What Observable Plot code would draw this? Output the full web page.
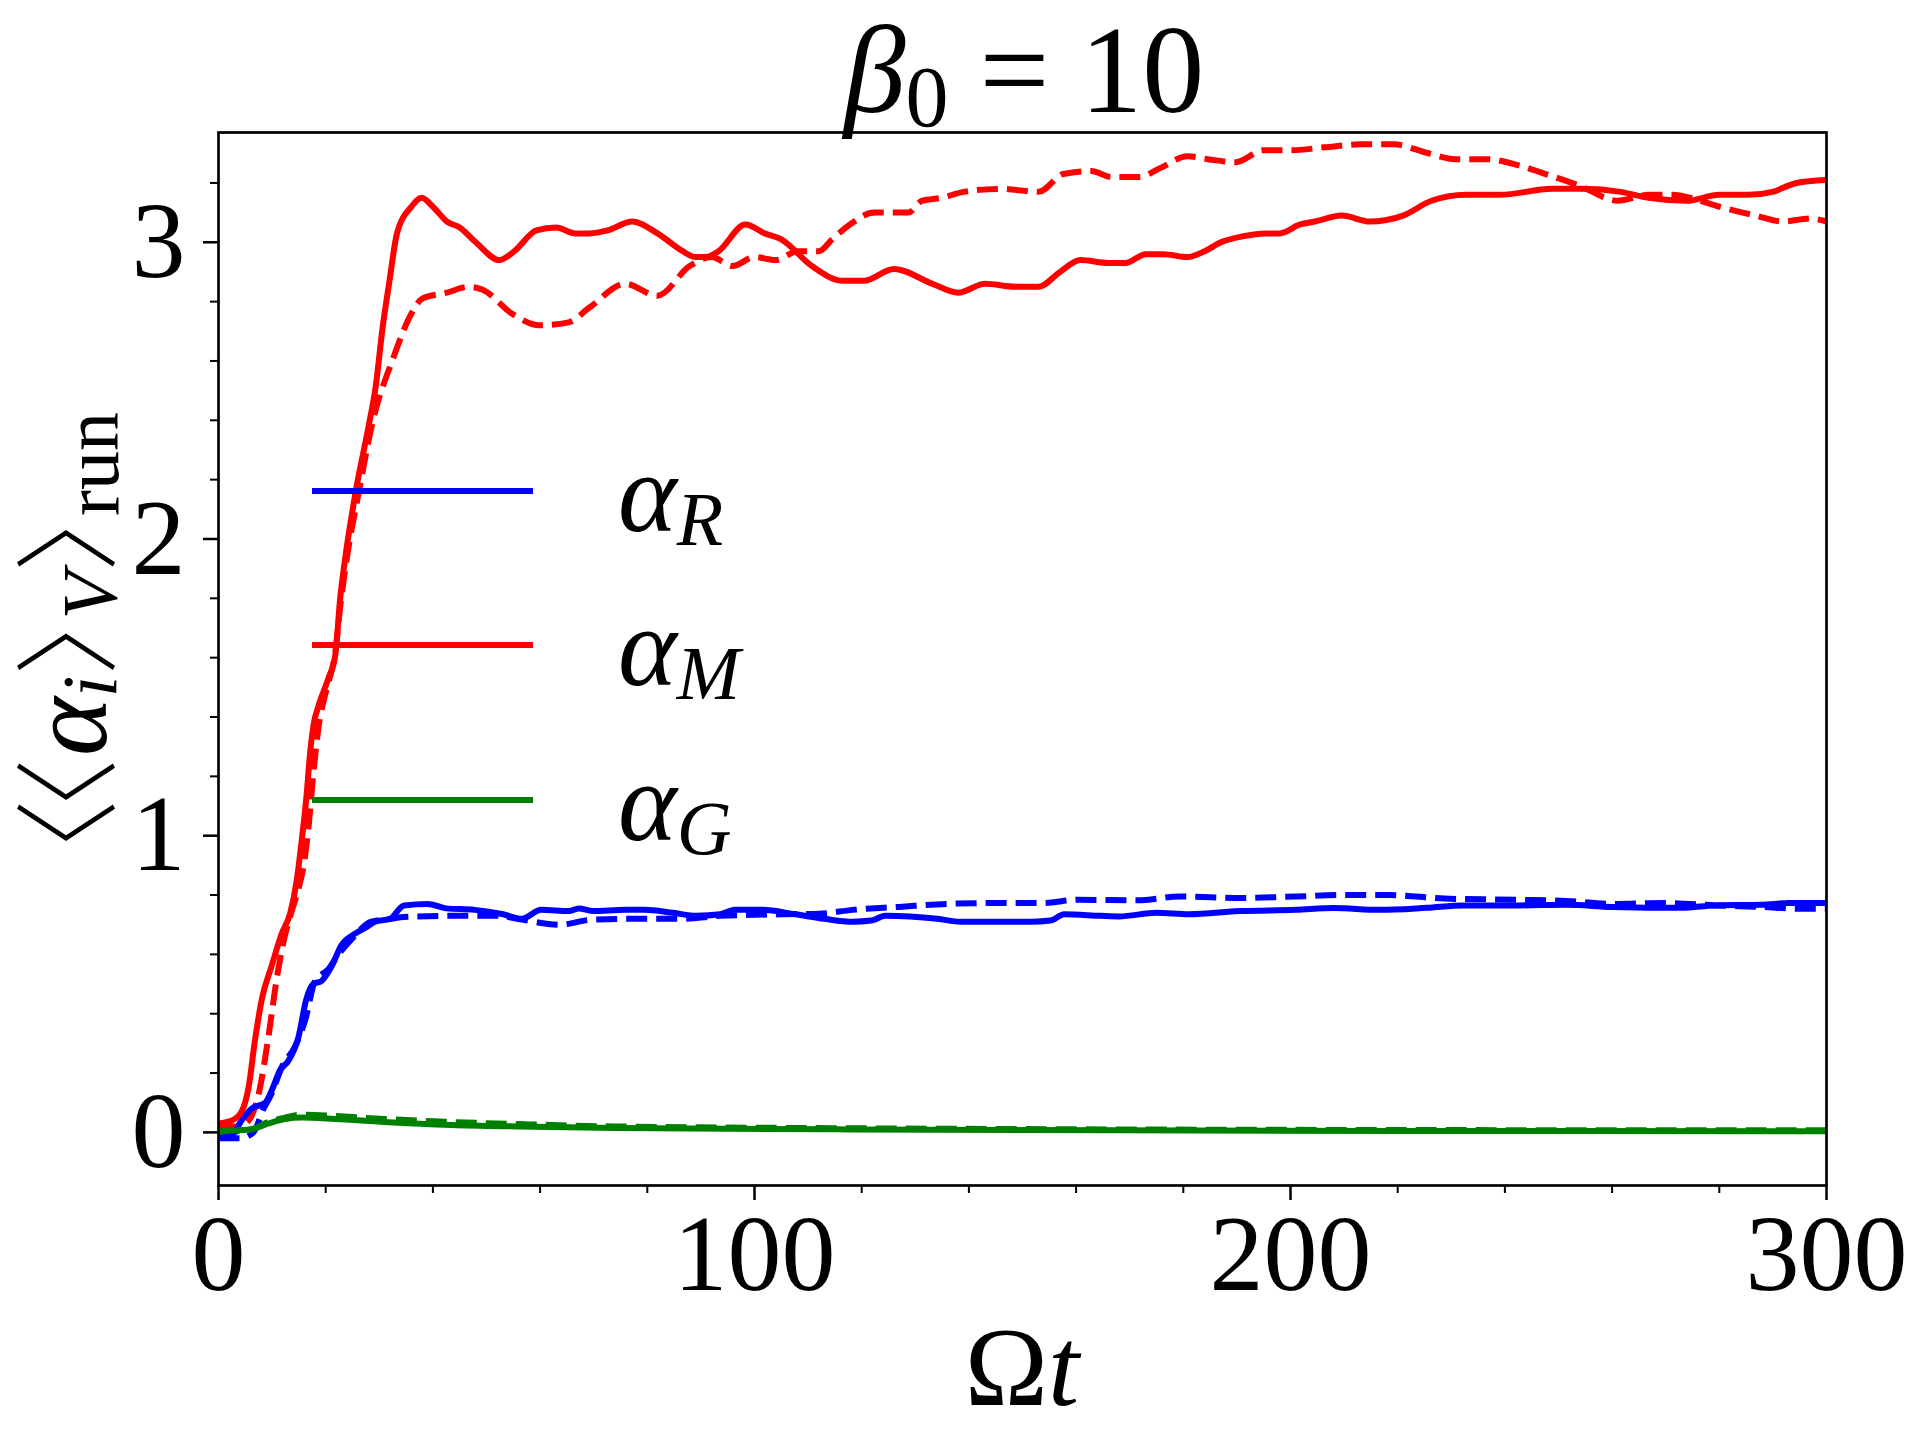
<!DOCTYPE html>
<html><head><meta charset="utf-8">
<script src="https://cdn.jsdelivr.net/npm/d3@7"></script>
<script src="https://cdn.jsdelivr.net/npm/@observablehq/plot@0.6"></script>
<style>
body{margin:0;background:#fff}
#chart svg{display:block}
</style>
</head><body><div id="chart"></div>
<script>
// ---- data: [Ωt, value] ----
const alphaM_solid = [[0,0.03],[2.5,0.04],[4.3,0.07],[5.6,0.15],[6.8,0.31],[8.1,0.45],[9.9,0.56],[11.8,0.67],[13.4,0.74],[14.6,0.85],[15.5,0.98],[16.4,1.13],[17.1,1.28],[17.7,1.37],[18.7,1.44],[20.5,1.53],[21.8,1.61],[22.7,1.80],[23.6,1.93],[25.6,2.16],[28,2.38],[29.3,2.51],[30.6,2.71],[31.9,2.87],[33.3,3.03],[36,3.12],[37.9,3.15],[40,3.12],[42.6,3.07],[45,3.05],[48,3.0],[52.4,2.94],[55.2,2.97],[59.3,3.04],[63,3.05],[66.6,3.03],[69.2,3.03],[72.6,3.04],[77.2,3.07],[81.9,3.03],[86.6,2.97],[89,2.95],[91,2.95],[93.3,2.97],[98.3,3.06],[101.9,3.03],[105,3.01],[110.7,2.92],[116.5,2.87],[120.4,2.87],[126,2.91],[133.2,2.86],[138,2.83],[143,2.86],[148.7,2.85],[153,2.85],[157,2.90],[160.8,2.94],[166,2.93],[169.2,2.93],[173,2.96],[176.3,2.96],[180.8,2.95],[184,2.97],[187,3.00],[191,3.02],[195.5,3.03],[198,3.03],[201.8,3.06],[204.5,3.07],[209.6,3.09],[214.8,3.07],[221,3.09],[226.3,3.14],[232.7,3.16],[239,3.16],[248.8,3.18],[254.6,3.18],[261.6,3.17],[266.8,3.15],[273.9,3.14],[280,3.16],[285.4,3.16],[289.9,3.17],[294.4,3.20],[300,3.21]];
const alphaM_dashed = [[0,0.02],[3,0.02],[5,0.03],[7.5,0.13],[9.3,0.32],[10.8,0.51],[12.1,0.64],[13.4,0.73],[14.9,0.82],[15.9,0.90],[16.8,1.03],[17.7,1.21],[18.7,1.37],[20.1,1.49],[21.8,1.62],[22.7,1.77],[23.9,1.93],[26.3,2.17],[28.7,2.39],[32.6,2.61],[36,2.76],[38,2.81],[42.6,2.83],[46.6,2.85],[49.3,2.84],[54.7,2.76],[59.9,2.72],[65.3,2.73],[69.2,2.78],[75.9,2.86],[81.9,2.82],[87.9,2.92],[92,2.95],[95.9,2.92],[100,2.95],[104,2.94],[108,2.97],[112,2.97],[114.5,3.01],[117.8,3.06],[122.3,3.10],[128.7,3.10],[131.3,3.14],[135,3.15],[139,3.17],[146,3.18],[153,3.17],[157.6,3.23],[162.8,3.24],[166.6,3.22],[171.8,3.22],[175.7,3.25],[180.8,3.29],[184.6,3.28],[189.8,3.27],[194.9,3.31],[200,3.31],[206.3,3.32],[212.9,3.33],[219.2,3.33],[225.7,3.30],[230.8,3.28],[236.6,3.28],[242.4,3.26],[247.6,3.23],[254,3.19],[261,3.14],[266.8,3.16],[271.3,3.16],[274.5,3.15],[280,3.12],[286.8,3.09],[291.8,3.07],[297,3.08],[300,3.07]];
const alphaR_solid = [[0,-0.02],[2.5,-0.01],[4.3,0.04],[6.2,0.08],[8.7,0.10],[9.9,0.14],[11.5,0.21],[13,0.24],[14.9,0.32],[16.4,0.45],[17.7,0.50],[19.2,0.51],[21.1,0.56],[22.9,0.63],[25.5,0.67],[27.4,0.69],[29.2,0.71],[32,0.72],[34.6,0.765],[39,0.77],[42.5,0.755],[47.8,0.75],[53.1,0.735],[56.6,0.72],[60.2,0.75],[65.4,0.746],[67.2,0.755],[69.8,0.746],[75.9,0.75],[79.5,0.75],[84.8,0.74],[89.2,0.73],[93.6,0.735],[96.3,0.75],[101.5,0.75],[107.6,0.735],[113,0.72],[118.3,0.71],[121.8,0.714],[124.4,0.73],[134.1,0.72],[138.5,0.71],[144.7,0.71],[151.7,0.71],[155.2,0.714],[157.8,0.735],[164.6,0.73],[168,0.728],[175,0.74],[181,0.735],[190.6,0.746],[201,0.75],[208,0.756],[216.6,0.75],[225.4,0.757],[232.3,0.765],[242.7,0.765],[251.4,0.767],[260,0.76],[273,0.757],[279.2,0.765],[287.9,0.767],[293,0.773],[300,0.773]];
const alphaR_dashed = [[0,-0.02],[4,-0.02],[6.5,0.0],[8.4,0.08],[9.9,0.13],[11.8,0.22],[14.3,0.29],[16.2,0.38],[18,0.51],[20.5,0.55],[22.4,0.60],[24.8,0.65],[28.5,0.71],[32.3,0.72],[34.6,0.726],[43.4,0.73],[52.2,0.73],[56.6,0.717],[63.6,0.70],[69.8,0.717],[78.7,0.72],[86.6,0.72],[93.6,0.73],[105,0.735],[112,0.737],[118.3,0.75],[127,0.76],[135.8,0.77],[144.7,0.773],[153.5,0.773],[160.5,0.784],[171.5,0.782],[179.3,0.795],[190.6,0.79],[201,0.795],[209.7,0.80],[218.4,0.80],[228.8,0.788],[242.7,0.784],[251.4,0.78],[260,0.77],[270.5,0.773],[279.2,0.765],[287.9,0.76],[294.8,0.754],[300,0.754]];
const alphaG_solid = [[0,0.005],[6,0.01],[9.3,0.03],[12.4,0.045],[15.5,0.05],[21.8,0.045],[31,0.035],[43.5,0.025],[56,0.02],[74,0.015],[118,0.01],[168,0.007],[220,0.005],[300,0.004]];
const alphaG_dashed = [[0,0.0],[6,0.01],[9.3,0.035],[12.4,0.05],[15.5,0.06],[21.8,0.055],[31,0.045],[43.5,0.035],[56,0.028],[74,0.02],[118,0.014],[168,0.01],[220,0.008],[300,0.007]];

const xTicks = [0, 100, 200, 300];
const xMinorTicks = [20,40,60,80,120,140,160,180,220,240,260,280];
const yTicks = [0, 1, 2, 3];
const yMinorTicks = [0.2,0.4,0.6,0.8,1.2,1.4,1.6,1.8,2.2,2.4,2.6,2.8,3.2];

const colR = "#0000ff", colM = "#ff0000", colG = "#008000";
const legendItems = [
  {name:"α", sub:"R", color:colR},
  {name:"α", sub:"M", color:colM},
  {name:"α", sub:"G", color:colG}
];

(function(){
const FONT = "'Liberation Serif', 'Times New Roman', serif";
const LW = 6, DASH = "21,9";

function ln(data, color, dashed){
  return Plot.line(data, {x: d=>d[0], y: d=>d[1], stroke: color, strokeWidth: LW,
    strokeDasharray: dashed ? DASH : null, curve: "monotone-x", clip: true, strokeLinecap: "butt"});
}

const plot = Plot.plot({
  width: 1920, height: 1440,
  marginLeft: 218, marginRight: 94, marginTop: 132, marginBottom: 255,
  x: {domain: [0, 300]},
  y: {domain: [-0.179, 3.37]},
  style: {fontFamily: FONT, fontSize: "108px", background: "white", color: "black"},
  marks: [
    ln(alphaR_dashed, colR, true),
    ln(alphaM_dashed, colM, true),
    ln(alphaG_dashed, colG, true),
    ln(alphaR_solid, colR, false),
    ln(alphaM_solid, colM, false),
    ln(alphaG_solid, colG, false),
    Plot.axisX(xMinorTicks, {tickSize: 8, strokeWidth: 2, tickFormat: () => "", label: null}),
    Plot.axisX(xTicks, {tickSize: 15, strokeWidth: 2.5, tickPadding: 13, fontSize: 108, tickFormat: d => String(d), label: null}),
    Plot.axisY(yMinorTicks, {tickSize: 8, strokeWidth: 2, tickFormat: () => "", label: null}),
    Plot.axisY(yTicks, {tickSize: 15, strokeWidth: 2.5, tickPadding: 18, fontSize: 108, tickFormat: d => String(d), label: null}),
    Plot.frame({stroke: "black", strokeWidth: 2.7})
  ]
});
document.getElementById("chart").appendChild(plot);

const svg = d3.select(plot);
const sx = plot.scale("x"), sy = plot.scale("y");
const pLeft = sx.range[0], pRight = sx.range[1];
const pTop = Math.min(...sy.range), pBottom = Math.max(...sy.range);
const cx = (pLeft + pRight) / 2, cy = (pTop + pBottom) / 2;

// Title
const title = svg.append("text").attr("x", cx + 2).attr("y", 112)
  .attr("text-anchor", "middle").attr("font-family", FONT).attr("font-size", 124).attr("fill", "black");
title.append("tspan").attr("font-style", "italic").attr("font-size", 124).text("β");
title.append("tspan").attr("font-size", 86).attr("dy", 14).text("0");
title.append("tspan").attr("dy", -14).text(" = 10");

// X label
const xl = svg.append("text").attr("x", cx).attr("y", 1405)
  .attr("text-anchor", "middle").attr("font-family", FONT).attr("font-size", 112).attr("fill", "black");
xl.append("tspan").text("Ω");
xl.append("tspan").attr("font-style", "italic").text("t");

// Y label (rotated)
const BR = "'Noto Sans CJK JP', 'Noto Sans CJK SC', sans-serif";
const BS = 106;
const yl = svg.append("text").attr("transform", `translate(106,${cy}) rotate(-90)`)
  .attr("text-anchor", "middle").attr("font-family", FONT).attr("font-size", 112).attr("fill", "black");
function br(ch, dx, dy){
  return yl.append("tspan").attr("font-family", BR).attr("font-weight", 300).attr("font-size", BS)
    .attr("dx", dx).attr("dy", dy).text(ch);
}
br("〈", 0, 0);
br("〈", -12, 0);
yl.append("tspan").attr("font-style", "italic").attr("dx", 2).text("α");
yl.append("tspan").attr("font-style", "italic").attr("font-size", 78).attr("dy", 10).text("i");
br("〉", 0, -10);
yl.append("tspan").attr("font-style", "italic").attr("font-size", 78).attr("dx", -50).attr("dy", 10).text("V");
br("〉", 0, -10);
yl.append("tspan").attr("font-size", 78).attr("dx", -50).attr("dy", 12).text("run");

// Legend
const legY = [491, 645, 800];
legendItems.forEach((it, i) => {
  svg.append("line").attr("x1", 312).attr("x2", 533).attr("y1", legY[i]).attr("y2", legY[i])
    .attr("stroke", it.color).attr("stroke-width", LW);
  const t = svg.append("text").attr("x", 618).attr("y", legY[i] + 40).attr("text-anchor", "start")
    .attr("font-family", FONT).attr("font-size", 112).attr("fill", "black");
  t.append("tspan").attr("font-style", "italic").text(it.name);
  t.append("tspan").attr("font-style", "italic").attr("font-size", 76).attr("dy", 14).text(it.sub);
});
})();
</script>
</body></html>
